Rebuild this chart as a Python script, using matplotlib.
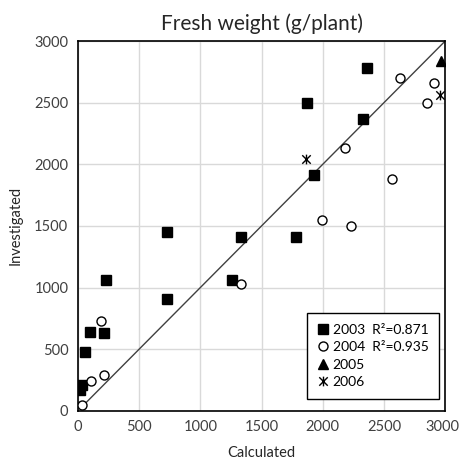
import numpy as np
import matplotlib.pyplot as plt
import matplotlib.transforms as mtransforms
from matplotlib.path import Path

plt.rcParams['font.family'] = ['Lato', 'DejaVu Sans']

# 2003
calc_2003 = [1870, 2360, 2330, 1930, 730, 1330, 1780, 1260, 730, 230, 100, 210, 60, 30, 20]
inv_2003 = [2500, 2780, 2370, 1910, 1450, 1410, 1410, 1060, 910, 1060, 640, 630, 480, 210, 170]
# 2004
calc_2004 = [2630, 2910, 2850, 2180, 2570, 1990, 2230, 1330, 190, 210, 110, 30]
inv_2004 = [2700, 2660, 2500, 2130, 1880, 1550, 1500, 1030, 730, 290, 240, 50]
# 2005
calc_2005 = [2965]
inv_2005 = [2840]
# 2006
calc_2006 = [1865, 2960]
inv_2006 = [2040, 2565]

labels = ['2003  R\u00b2=0.871', '2004  R\u00b2=0.935', '2005', '2006']

star = Path([(-1, -1), (1, 1), (-1, 1), (1, -1), (0, -1.15), (0, 1.15)],
            [Path.MOVETO, Path.LINETO, Path.MOVETO, Path.LINETO, Path.MOVETO, Path.LINETO])

fig = plt.figure(figsize=(4.6, 4.62), dpi=100)
ax = fig.add_axes([0.1696, 0.111, 0.798, 0.8])

ax.plot([30, 3000], [30, 3000], color='#404040', lw=1, zorder=2)

ax.plot(calc_2003, inv_2003, 's', color='black', ms=7, ls='none', label=labels[0], zorder=3)
ax.plot(calc_2004, inv_2004, 'o', mfc='white', mec='black', mew=1, ms=6.5, ls='none', label=labels[1], zorder=3)
ax.plot(calc_2005, inv_2005, '^', color='black', ms=7, ls='none', label=labels[2], zorder=3)
ax.plot(calc_2006, inv_2006, marker=star, color='black', mew=1, ms=7, ls='none', label=labels[3], zorder=3)

ax.set_xlim(0, 3000)
ax.set_ylim(0, 3000)
ax.set_xticks(np.arange(0, 3001, 500))
ax.set_yticks(np.arange(0, 3001, 500))
ax.grid(True, color='#d9d9d9', lw=1)
ax.set_axisbelow(True)
ax.tick_params(length=0, labelsize=10.5, colors='#404040', pad=7)
for s in ax.spines.values():
    s.set_linewidth(1.2)
    s.set_color('black')

# nudge the last x tick label so it stays inside the figure
last = ax.get_xticklabels()[-1]
last.set_transform(last.get_transform() + mtransforms.ScaledTranslation(-2.5 / 100, 0, fig.dpi_scale_trans))

ax.set_xlabel('Calculated', fontsize=10.5, color='#262626', labelpad=8)
ax.set_ylabel('Investigated', fontsize=10.5, color='#262626', labelpad=8)
ax.set_title('Fresh weight (g/plant)', fontsize=15, color='#262626', pad=8)

leg = ax.legend(loc='upper left', bbox_to_anchor=(0.624, 0.264), fontsize=10,
                frameon=True, fancybox=False, edgecolor='black', framealpha=1,
                handlelength=0.8, handletextpad=0.3, labelspacing=0.4,
                borderpad=0.75, borderaxespad=0)
leg.get_frame().set_linewidth(1)

fig.savefig('out.png', dpi=100)
